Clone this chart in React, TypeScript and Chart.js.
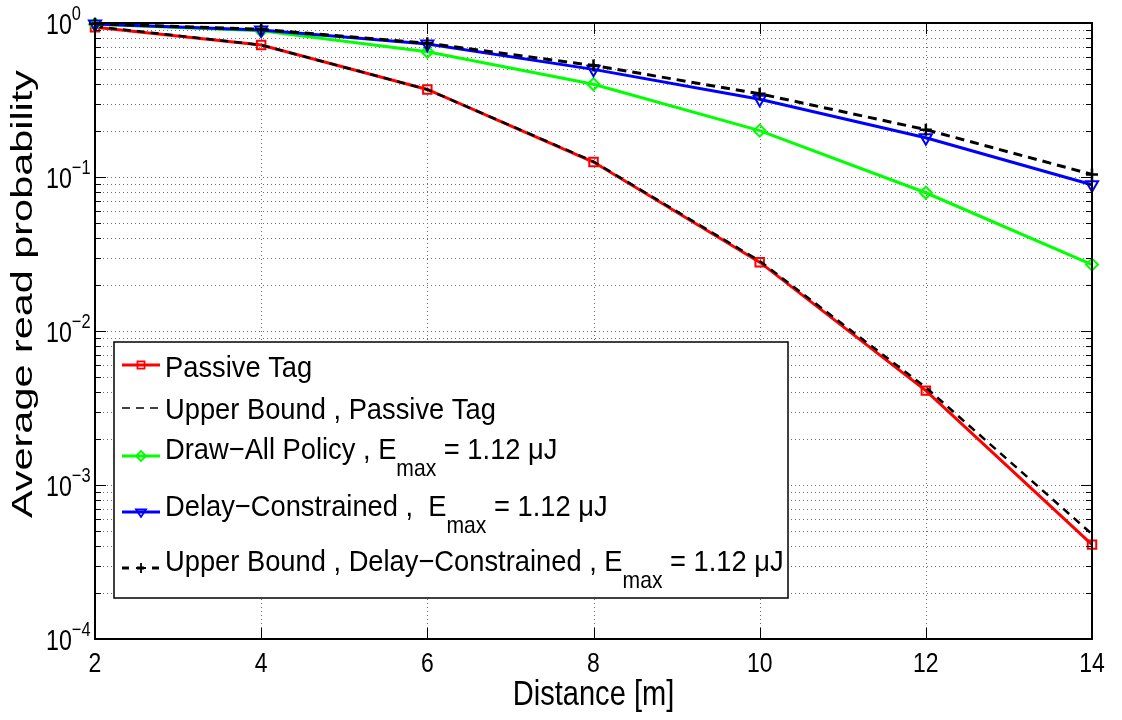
import React, { useEffect, useRef } from "react";
import { Chart, registerables } from "chart.js";

Chart.register(...registerables);

// ---------------- data ----------------
const distance = [2, 4, 6, 8, 10, 12, 14];
const passiveTag = [0.94, 0.72, 0.37, 0.125, 0.028, 0.0041, 0.00041];
const upperBoundPassive = [0.95, 0.72, 0.37, 0.126, 0.0285, 0.0043, 0.00048];
const drawAllPolicy = [0.98, 0.89, 0.65, 0.4, 0.2, 0.079, 0.027];
const delayConstrained = [0.985, 0.9, 0.73, 0.5, 0.32, 0.18, 0.089];
const upperBoundDelay = [0.99, 0.91, 0.74, 0.53, 0.347, 0.203, 0.104];

const xTickValues = [2, 4, 6, 8, 10, 12, 14];
const yDecadeExponents = [0, -1, -2, -3, -4];
const yMinorMultipliers = [2, 3, 4, 5, 6, 7, 8, 9];

const xTitle = "Distance [m]";
const yTitle = "Average read probability";

type Part = { text: string; sub?: boolean };
const legendPassive: Part[] = [{ text: "Passive Tag" }];
const legendUBPassive: Part[] = [{ text: "Upper Bound , Passive Tag" }];
const legendDrawAll: Part[] = [{ text: "Draw\u2212All Policy , E" }, { text: "max", sub: true }, { text: " = 1.12 \u03bcJ" }];
const legendDelay: Part[] = [{ text: "Delay\u2212Constrained ,  E" }, { text: "max", sub: true }, { text: " = 1.12 \u03bcJ" }];
const legendUBDelay: Part[] = [{ text: "Upper Bound , Delay\u2212Constrained , E" }, { text: "max", sub: true }, { text: " = 1.12 \u03bcJ" }];
const legendRows = [legendPassive, legendUBPassive, legendDrawAll, legendDelay, legendUBDelay];

const toPoints = (ys: number[]) => distance.map((d, i) => ({ x: d, y: ys[i] }));

const FONT = '"Liberation Sans", Arial, Helvetica, sans-serif';

function drawText(
  ctx: CanvasRenderingContext2D,
  s: string,
  x: number,
  y: number,
  size: number,
  sx: number,
  align: "left" | "center" | "right" = "left"
) {
  ctx.save();
  ctx.font = `${size}px ${FONT}`;
  ctx.textAlign = "left";
  ctx.textBaseline = "alphabetic";
  ctx.fillStyle = "#000";
  const w = ctx.measureText(s).width * sx;
  const x0 = align === "center" ? x - w / 2 : align === "right" ? x - w : x;
  ctx.translate(x0, y);
  ctx.scale(sx, 1);
  ctx.fillText(s, 0, 0);
  ctx.restore();
  return w;
}

function drawMarker(ctx: CanvasRenderingContext2D, style: string, x: number, y: number, r: number, color: string, lw: number) {
  ctx.save();
  ctx.setLineDash([]);
  ctx.strokeStyle = color;
  ctx.lineWidth = lw;
  ctx.beginPath();
  if (style === "rect") {
    const s = r * Math.SQRT1_2;
    ctx.rect(x - s, y - s, 2 * s, 2 * s);
  } else if (style === "rectRot") {
    ctx.moveTo(x, y - r);
    ctx.lineTo(x + r, y);
    ctx.lineTo(x, y + r);
    ctx.lineTo(x - r, y);
    ctx.closePath();
  } else if (style === "triangleDown") {
    const h = r * 1.5;
    ctx.moveTo(x - r, y - h / 3);
    ctx.lineTo(x + r, y - h / 3);
    ctx.lineTo(x, y + (2 * h) / 3);
    ctx.closePath();
  } else if (style === "cross") {
    ctx.moveTo(x - r, y);
    ctx.lineTo(x + r, y);
    ctx.moveTo(x, y - r);
    ctx.lineTo(x, y + r);
  }
  ctx.stroke();
  ctx.restore();
}

const legendMarkers = ["rect", "none", "rectRot", "triangleDown", "cross"];

const matlabPlugin = {
  id: "matlabLook",
  beforeDatasetsDraw(chart: any) {
    const { ctx, chartArea: a, scales } = chart;
    const xs = scales.x;
    const ys = scales.y;
    ctx.save();
    ctx.lineWidth = 1;
    ctx.setLineDash([1, 3]);
    ctx.strokeStyle = "#707070";
    for (const v of xTickValues) {
      const px = Math.round(xs.getPixelForValue(v)) + 0.5;
      ctx.beginPath();
      ctx.moveTo(px, a.top);
      ctx.lineTo(px, a.bottom);
      ctx.stroke();
    }
    for (const e of yDecadeExponents) {
      for (const m of [1, ...yMinorMultipliers]) {
        const val = m * Math.pow(10, e);
        if (val > 1.0001) continue;
        const py = Math.round(ys.getPixelForValue(val)) + 0.5;
        ctx.beginPath();
        ctx.moveTo(a.left, py);
        ctx.lineTo(a.right, py);
        ctx.stroke();
      }
    }
    ctx.restore();
  },
  afterDraw(chart: any) {
    const { ctx, chartArea: a, scales } = chart;
    const xs = scales.x;
    const ys = scales.y;
    ctx.save();
    ctx.setLineDash([]);
    ctx.strokeStyle = "#000";
    // tick marks inside
    ctx.lineWidth = 1;
    for (const v of xTickValues) {
      const px = Math.round(xs.getPixelForValue(v)) + 0.5;
      ctx.beginPath();
      ctx.moveTo(px, a.bottom);
      ctx.lineTo(px, a.bottom - 11);
      ctx.moveTo(px, a.top);
      ctx.lineTo(px, a.top + 11);
      ctx.stroke();
    }
    for (const e of yDecadeExponents) {
      for (const m of [1, ...yMinorMultipliers]) {
        const val = m * Math.pow(10, e);
        if (val > 1.0001) continue;
        const len = m === 1 ? 11 : 6;
        const py = Math.round(ys.getPixelForValue(val)) + 0.5;
        ctx.beginPath();
        ctx.moveTo(a.left, py);
        ctx.lineTo(a.left + len, py);
        ctx.moveTo(a.right, py);
        ctx.lineTo(a.right - len, py);
        ctx.stroke();
      }
    }
    // axes box
    ctx.lineWidth = 2;
    ctx.strokeRect(Math.round(a.left), Math.round(a.top), Math.round(a.right - a.left), Math.round(a.bottom - a.top));

    // x tick labels
    for (const v of xTickValues) {
      drawText(ctx, String(v), xs.getPixelForValue(v), a.bottom + 33, 28, 0.82, "center");
    }
    // y tick labels 10^n
    for (const e of yDecadeExponents) {
      const py = ys.getPixelForValue(Math.pow(10, e));
      const w = drawText(ctx, "10", 46, py + 11, 29, 0.8, "left");
      const sup = e === 0 ? "0" : "\u2212" + String(-e);
      drawText(ctx, sup, 46 + w, py - 3, 20, 0.82, "left");
    }
    // x title
    drawText(ctx, xTitle, (a.left + a.right) / 2, 705, 35, 0.83, "center");
    // y title (rotated)
    ctx.save();
    ctx.font = `30px ${FONT}`;
    const tw = ctx.measureText(yTitle).width;
    const stretch = 448 / tw;
    ctx.translate(32, 294);
    ctx.rotate(-Math.PI / 2);
    ctx.scale(stretch, 1);
    ctx.textAlign = "center";
    ctx.textBaseline = "alphabetic";
    ctx.fillStyle = "#000";
    ctx.fillText(yTitle, 0, 0);
    ctx.restore();

    // legend
    const lx0 = 114, ly0 = 342, lx1 = 788, ly1 = 598;
    ctx.fillStyle = "#fff";
    ctx.fillRect(lx0, ly0, lx1 - lx0, ly1 - ly0);
    ctx.lineWidth = 1.5;
    ctx.strokeStyle = "#000";
    ctx.strokeRect(lx0, ly0, lx1 - lx0, ly1 - ly0);
    const lineYs = [365, 408, 456, 512, 568];
    const baseYs = [377, 419, 459, 516, 571];
    chart.data.datasets.forEach((ds: any, i: number) => {
      const ly = lineYs[i];
      ctx.save();
      ctx.strokeStyle = ds.borderColor;
      ctx.lineWidth = ds.legendLineWidth || ds.borderWidth;
      ctx.setLineDash(ds.legendDash || []);
      ctx.beginPath();
      ctx.moveTo(122, ly);
      ctx.lineTo(160, ly);
      ctx.stroke();
      ctx.restore();
      const mk = legendMarkers[i];
      if (mk !== "none") drawMarker(ctx, mk, 141, ly, 5, ds.borderColor, 1.8);
      let x = 165;
      for (const p of legendRows[i]) {
        if (p.sub) {
          x += drawText(ctx, p.text, x, baseYs[i] + 17, 24, 0.88, "left");
        } else {
          x += drawText(ctx, p.text, x, baseYs[i], 30, 0.91, "left");
        }
      }
    });
    ctx.restore();
  },
};

export default function App() {
  const ref = useRef<HTMLCanvasElement | null>(null);
  useEffect(() => {
    if (!ref.current) return;
    const chart = new Chart(ref.current, {
      type: "line",
      data: {
        datasets: [
          {
            label: "Passive Tag",
            data: toPoints(passiveTag),
            borderColor: "#ff0000",
            backgroundColor: "transparent",
            borderWidth: 3,
            pointStyle: "rect",
            pointRadius: 6,
            pointBorderWidth: 2,
            pointBackgroundColor: "transparent",
            order: 4,
            clip: false,
          } as any,
          {
            label: "Upper Bound , Passive Tag",
            data: toPoints(upperBoundPassive),
            borderColor: "#000000",
            backgroundColor: "transparent",
            borderWidth: 2.5,
            borderDash: [8, 6],
            pointRadius: 0,
            legendLineWidth: 1.5,
            legendDash: [8, 6],
            order: 3,
            clip: false,
          } as any,
          {
            label: "Draw-All Policy",
            data: toPoints(drawAllPolicy),
            borderColor: "#00ff00",
            backgroundColor: "transparent",
            borderWidth: 3,
            pointStyle: "rectRot",
            pointRadius: 6,
            pointBorderWidth: 2,
            pointBackgroundColor: "transparent",
            order: 2,
            clip: false,
          } as any,
          {
            label: "Delay-Constrained",
            data: toPoints(delayConstrained),
            borderColor: "#0000ff",
            backgroundColor: "transparent",
            borderWidth: 3,
            pointStyle: "triangle",
            rotation: 180,
            pointRotation: 180,
            pointRadius: 7,
            pointBorderWidth: 2,
            pointBackgroundColor: "transparent",
            order: 1,
            clip: false,
          } as any,
          {
            label: "Upper Bound , Delay-Constrained",
            data: toPoints(upperBoundDelay),
            borderColor: "#000000",
            backgroundColor: "transparent",
            borderWidth: 3,
            borderDash: [9, 6],
            pointStyle: "cross",
            pointRadius: 6,
            pointBorderWidth: 2.5,
            legendDash: [7, 8],
            order: 0,
            clip: false,
          } as any,
        ],
      },
      options: {
        responsive: false,
        animation: false,
        layout: { padding: { left: 95, top: 23, right: 30, bottom: 81 } },
        plugins: { legend: { display: false }, tooltip: { enabled: false } },
        elements: { line: { tension: 0 } },
        scales: {
          x: { type: "linear", min: 2, max: 14, display: false },
          y: { type: "logarithmic", min: 1e-4, max: 1, display: false },
        },
      },
      plugins: [matlabPlugin],
    });
    return () => chart.destroy();
  }, []);
  return (
    <div style={{ position: "absolute", left: 0, top: 0, width: 1122, height: 720, background: "#fff" }}>
      <canvas ref={ref} width={1122} height={720} />
    </div>
  );
}
